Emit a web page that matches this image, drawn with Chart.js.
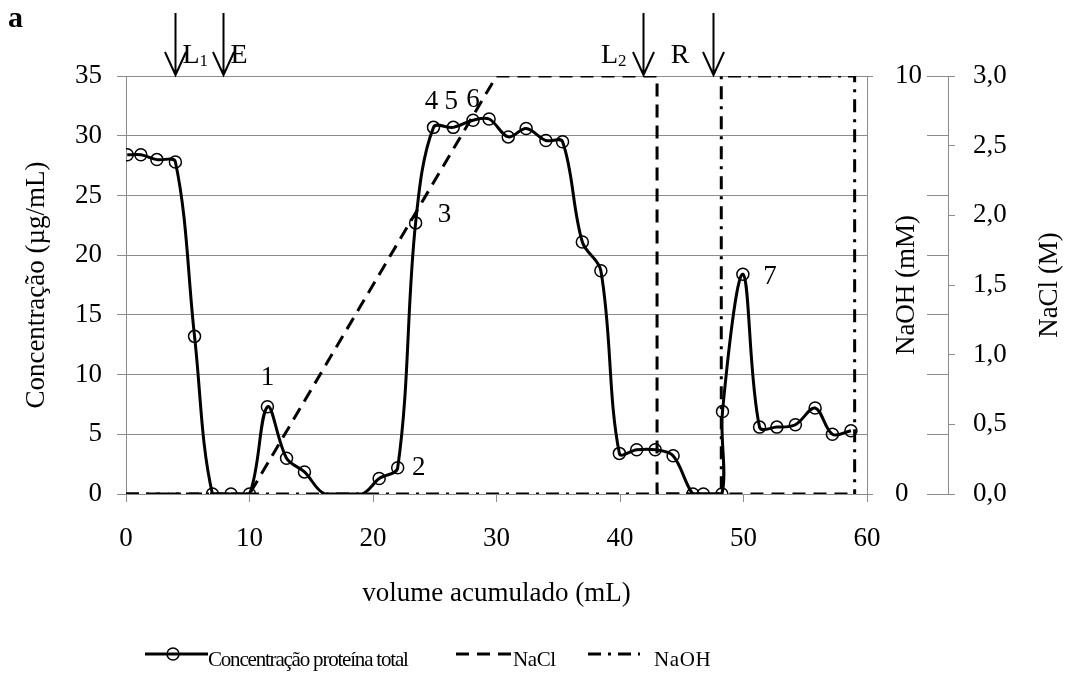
<!DOCTYPE html>
<html>
<head>
<meta charset="utf-8">
<script src="https://cdn.jsdelivr.net/npm/chart.js@4/dist/chart.umd.min.js"></script>
<style>
 body { margin: 0; background: #fff; }
 #wrap { position: relative; width: 1067px; height: 680px; }
 #chart { position: absolute; left: 0; top: 0; }
 .txt { position: absolute; font-family: 'Liberation Serif', 'Times New Roman', serif; color: #000; white-space: nowrap; }
 .lg { top: 647px; font-size: 21px; line-height: 24px; }
 .lgsvg { position: absolute; top: 642px; }
</style>
</head>
<body>
<div id="wrap">
 <canvas id="chart" width="1067" height="680"></canvas>
 <div class="txt" style="left:8px;top:0px;font-size:30px;font-weight:bold;">a</div>
 <div id="legend"></div>
</div>
<script>
// volume acumulado (mL) e concentração de proteína total (µg/mL)
const volX = [0.1, 1.2, 2.5, 4.0, 5.55, 7.0, 8.5, 10.0, 11.45, 13.0, 14.45, 16.1, 19.1, 20.5, 22.0,
  23.45, 24.9, 26.5, 28.1, 29.4, 30.95, 32.4, 34.0, 35.35, 36.95, 38.45, 39.95, 41.35, 42.85,
  44.3, 45.9, 46.75, 48.25, 48.3, 49.95, 51.3, 52.7, 54.2, 55.8, 57.2, 58.7];
const protY = [28.4, 28.4, 28.0, 27.8, 13.2, 0, 0, 0, 7.3, 3.0, 1.85, 0, 0, 1.3, 2.2,
  22.7, 30.7, 30.7, 31.3, 31.4, 29.9, 30.6, 29.6, 29.5, 21.1, 18.7, 3.4, 3.7, 3.7,
  3.2, 0, 0, 0, 6.9, 18.4, 5.6, 5.6, 5.8, 7.2, 5.0, 5.3];
const semMarcador = [11, 12]; // pontos sem círculo

// NaCl (M) e NaOH (mM)
const naclX = [0, 10, 30, 43, 43, 59];
const naclY = [0, 0, 3, 3, 0, 0];
const naohX = [0, 48.2, 48.2, 59, 59];
const naohY = [0, 0, 10, 10, 0];

// picos numerados
const picos = ['1', '2', '3', '4', '5', '6', '7'];
const picosIdx = [8, 14, 15, 16, 17, 18, 34];

// eventos (setas)
const eventos = ['L', 'E', 'L', 'R'];
const eventosSub = ['1', '', '2', ''];
const eventosX = [3.95, 7.85, 41.9, 47.5];

const legendNames = ['Concentração proteína total', 'NaCl', 'NaOH'];
const xTicks = [0, 10, 20, 30, 40, 50, 60];

const GRID = '#8c8c8c';
const FONT = "'Liberation Serif', 'Times New Roman', serif";
Chart.defaults.font.family = FONT;
Chart.defaults.color = '#000';

const anotacoes = {
  id: 'anotacoes',
  afterDatasetsDraw(chart) {
    const {ctx, chartArea, scales} = chart;
    const x = scales.x, y = scales.y;
    ctx.save();
    ctx.fillStyle = '#000';
    ctx.strokeStyle = '#000';

    // numeros dos picos
    const desloc = [[0, -29], [21, 0], [29, -8], [-2, -25], [-2, -25], [0, -20], [27, 3]];
    ctx.font = '27px ' + FONT;
    ctx.textAlign = 'center';
    ctx.textBaseline = 'middle';
    picosIdx.forEach((idx, i) => {
      ctx.fillText(picos[i],
        x.getPixelForValue(volX[idx]) + desloc[i][0],
        y.getPixelForValue(protY[idx]) + desloc[i][1]);
    });

    // setas
    const lado = [7, 7, -17, -24];
    const tip = chartArea.top - 1;
    ctx.lineWidth = 2;
    ctx.textBaseline = 'alphabetic';
    ctx.textAlign = 'left';
    eventosX.forEach((v, i) => {
      const px = Math.round(x.getPixelForValue(v)) + 0.5;
      ctx.beginPath();
      ctx.moveTo(px, tip - 62);
      ctx.lineTo(px, tip);
      ctx.moveTo(px - 10.5, tip - 23);
      ctx.lineTo(px, tip);
      ctx.lineTo(px + 10.5, tip - 23);
      ctx.stroke();

      ctx.font = '28px ' + FONT;
      const w1 = ctx.measureText(eventos[i]).width;
      ctx.font = '17px ' + FONT;
      const w2 = ctx.measureText(eventosSub[i]).width;
      let tx = lado[i] > 0 ? px + lado[i] : px + lado[i] - w1 - w2;
      const base = tip - 12;
      ctx.font = '28px ' + FONT;
      ctx.fillText(eventos[i], tx, base);
      ctx.font = '17px ' + FONT;
      ctx.fillText(eventosSub[i], tx + w1, base + 3);
    });
    ctx.restore();
  },
  afterDraw(chart) {
    // titulos dos eixos da direita (lidos de baixo para cima)
    const {ctx, chartArea, scales} = chart;
    const cy = (chartArea.top + chartArea.bottom) / 2;
    ctx.save();
    ctx.fillStyle = '#000';
    ctx.font = '27px ' + FONT;
    ctx.textAlign = 'center';
    ctx.textBaseline = 'middle';
    [['y1', 40], ['y2', 102]].forEach(([id, dx]) => {
      const s = scales[id];
      ctx.save();
      ctx.translate(s.left + dx, cy);
      ctx.rotate(-Math.PI / 2);
      ctx.fillText(s.options.title.text, 0, 0);
      ctx.restore();
    });
    ctx.restore();
  }
};

new Chart(document.getElementById('chart'), {
  type: 'line',
  data: {
    datasets: [
      {
        label: legendNames[0],
        data: volX.map((v, i) => ({x: v, y: protY[i]})),
        yAxisID: 'y',
        borderColor: '#000',
        borderWidth: 3,
        tension: 0.35,
        fill: false,
        pointRadius: c => semMarcador.includes(c.dataIndex) ? 0 : 6,
        pointBorderWidth: 1.5,
        pointBorderColor: '#000',
        pointBackgroundColor: 'rgba(0,0,0,0)'
      },
      {
        label: legendNames[1],
        data: naclX.map((v, i) => ({x: v, y: naclY[i]})),
        yAxisID: 'y2',
        borderColor: '#000',
        borderWidth: 3,
        borderDash: [13, 8],
        pointRadius: 0,
        fill: false
      },
      {
        label: legendNames[2],
        data: naohX.map((v, i) => ({x: v, y: naohY[i]})),
        yAxisID: 'y1',
        borderColor: '#000',
        borderWidth: 3,
        borderDash: [13, 7, 3, 7],
        pointRadius: 0,
        fill: false
      }
    ]
  },
  options: {
    responsive: false,
    animation: false,
    layout: {padding: {top: 76, left: 0, right: 0, bottom: 66}},
    plugins: {legend: {display: false}, tooltip: {enabled: false}},
    scales: {
      x: {
        type: 'linear', min: 0, max: 60,
        afterBuildTicks: s => { s.ticks = xTicks.map(v => ({value: v})); },
        ticks: {padding: 21, font: {size: 27}},
        grid: {drawOnChartArea: false, tickLength: 8, color: GRID},
        border: {color: GRID},
        title: {display: true, text: 'volume acumulado (mL)', font: {size: 27}, padding: {top: 0, bottom: 4}},
        afterFit: s => { s.height = 120; }
      },
      y: {
        position: 'left', min: 0, max: 35,
        ticks: {stepSize: 5, padding: 15, font: {size: 27}},
        grid: {color: GRID, tickLength: 9},
        border: {color: GRID},
        title: {display: true, text: 'Concentração (µg/mL)', font: {size: 27}, padding: {top: 21, bottom: 0}},
        afterFit: s => { s.width = 126; }
      },
      y1: {
        position: 'right', weight: 0, min: 0, max: 10,
        ticks: {stepSize: 10, padding: 22, font: {size: 27}},
        grid: {drawOnChartArea: false, tickLength: 6, color: GRID},
        border: {color: GRID},
        title: {display: false, text: 'NaOH (mM)'},
        afterFit: s => { s.width = 60; }
      },
      yMarcas: {
        position: 'right', weight: 1, min: 0, max: 35,
        ticks: {stepSize: 5, display: false},
        grid: {drawOnChartArea: false, tickLength: 21, color: GRID},
        border: {display: false},
        afterFit: s => { s.width = 21; }
      },
      y2: {
        position: 'right', weight: 2, min: 0, max: 3,
        ticks: {stepSize: 0.5, padding: 18, font: {size: 27}, callback: v => v.toFixed(1).replace('.', ',')},
        grid: {drawOnChartArea: false, tickLength: 7, color: GRID},
        border: {color: GRID},
        title: {display: false, text: 'NaCl (M)'},
        afterFit: s => { s.width = 119; }
      }
    }
  },
  plugins: [anotacoes]
});

// legenda em HTML
const lg = document.getElementById('legend');
const amostras = [
  {left: 145, w: 63, txt: 208, dash: '', circ: 28, ls: '-1.2px'},
  {left: 456, w: 55, txt: 513, dash: '13 8', circ: null, ls: '-0.4px'},
  {left: 588, w: 52, txt: 654, dash: '13 7 3 7', circ: null, ls: '0.6px'}
];
amostras.forEach((a, i) => {
  let svg = '<svg class="lgsvg" style="left:' + a.left + 'px" width="' + a.w + '" height="24">' +
    '<line x1="0" y1="12" x2="' + a.w + '" y2="12" stroke="#000" stroke-width="3"' +
    (a.dash ? ' stroke-dasharray="' + a.dash + '"' : '') + '/>';
  if (a.circ !== null) {
    svg += '<circle cx="' + a.circ + '" cy="12" r="6" fill="none" stroke="#000" stroke-width="1.5"/>';
  }
  svg += '</svg>';
  lg.insertAdjacentHTML('beforeend', svg +
    '<div class="txt lg" style="left:' + a.txt + 'px;letter-spacing:' + a.ls + '">' + legendNames[i] + '</div>');
});
</script>
</body>
</html>
